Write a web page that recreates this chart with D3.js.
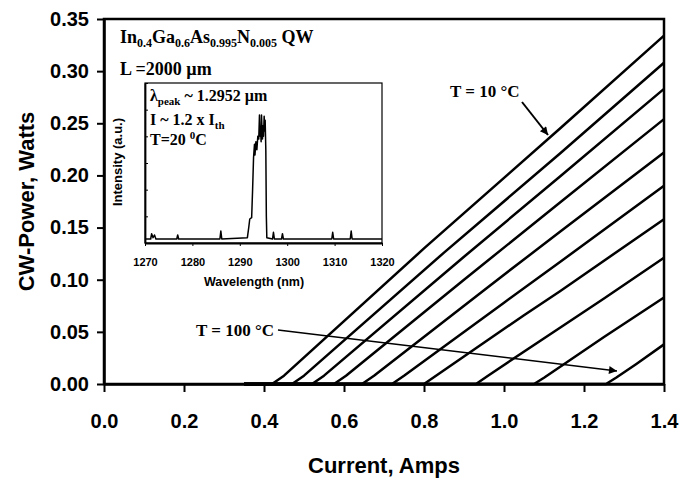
<!DOCTYPE html>
<html>
<head>
<meta charset="utf-8">
<script src="https://cdn.jsdelivr.net/npm/d3@7"></script>
<style>
  body { margin: 0; background: #fff; }
  .ax text, text.sans { font-family: "Liberation Sans", Arial, sans-serif; font-weight: bold; }
  .tl { font-family: "Liberation Serif", "Times New Roman", serif; font-weight: bold; }
</style>
</head>
<body>
<div id="chart"></div>
<script>
/* DATA */
// L-I curves, T = 10 .. 100 C, points are [current A, power W]
const temps = [10, 20, 30, 40, 50, 60, 70, 80, 90, 100];
const curve10  = [[0.35, 0], [0.42, 0], [0.45, 0.008], [0.80, 0.130], [1.14, 0.245], [1.40, 0.334]];
const curve20  = [[0.35, 0], [0.47, 0], [0.50, 0.008], [0.85, 0.126], [1.14, 0.221], [1.40, 0.308]];
const curve30  = [[0.35, 0], [0.52, 0], [0.55, 0.008], [0.90, 0.122], [1.14, 0.199], [1.40, 0.283]];
const curve40  = [[0.35, 0], [0.575, 0], [0.605, 0.008], [0.90, 0.100], [1.14, 0.174], [1.40, 0.254]];
const curve50  = [[0.35, 0], [0.645, 0], [0.675, 0.008], [0.95, 0.090], [1.14, 0.146], [1.40, 0.222]];
const curve60  = [[0.35, 0], [0.72, 0], [0.75, 0.008], [1.00, 0.078], [1.14, 0.117], [1.40, 0.190]];
const curve70  = [[0.35, 0], [0.80, 0], [0.83, 0.008], [1.05, 0.066], [1.14, 0.089], [1.40, 0.158]];
const curve80  = [[0.35, 0], [0.93, 0], [0.96, 0.008], [1.14, 0.054], [1.25, 0.082], [1.40, 0.121]];
const curve90  = [[0.35, 0], [1.075, 0], [1.10, 0.006], [1.25, 0.045], [1.40, 0.083]];
const curve100 = [[0.35, 0], [1.255, 0], [1.28, 0.006], [1.33, 0.019], [1.40, 0.038]];
const curves = [curve10, curve20, curve30, curve40, curve50, curve60, curve70, curve80, curve90, curve100];

const xTicks = [0.0, 0.2, 0.4, 0.6, 0.8, 1.0, 1.2, 1.4];
const yTicks = [0.00, 0.05, 0.10, 0.15, 0.20, 0.25, 0.30, 0.35];

// inset spectrum: [wavelength nm, intensity a.u.]
const spectrum = [
  [1270, 0.15], [1271.2, 0.15], [1271.4, 0.35], [1271.7, 0.2], [1272, 0.3], [1272.3, 0.15],
  [1276.7, 0.15], [1276.9, 0.3], [1277.1, 0.15],
  [1285.8, 0.15], [1286.0, 0.45], [1286.2, 0.15],
  [1291.6, 0.2], [1291.9, 0.6], [1292.1, 0.9], [1292.5, 0.95], [1292.7, 2.0], [1292.9, 3.2],
  [1293.1, 3.7], [1293.2, 3.3], [1293.4, 3.8], [1293.6, 3.5], [1293.8, 4.0], [1294.0, 3.9],
  [1294.15, 4.8], [1294.3, 4.0], [1294.37, 4.3], [1294.5, 3.8], [1294.58, 4.8], [1294.7, 4.2],
  [1294.79, 3.9], [1294.9, 4.4], [1295.0, 4.0], [1295.14, 4.75], [1295.25, 4.2], [1295.35, 4.6],
  [1295.49, 3.5], [1295.6, 1.0], [1295.7, 0.2],
  [1296.9, 0.15], [1297.1, 0.4], [1297.3, 0.15],
  [1298.8, 0.15], [1299.0, 0.35], [1299.2, 0.15],
  [1309.4, 0.15], [1309.6, 0.4], [1309.8, 0.15],
  [1313.3, 0.15], [1313.5, 0.45], [1313.7, 0.15], [1320, 0.15]
];
const insetXTicks = [1270, 1280, 1290, 1300, 1310, 1320];
const insetYTicks = [0, 1, 2, 3, 4, 5, 6];

/* LAYOUT */
const width = 691, height = 480;
const margin = {top: 19, right: 27, bottom: 96, left: 104};

const svg = d3.select("#chart").append("svg")
  .attr("width", width).attr("height", height);

const xScale = d3.scaleLinear().domain([0, 1.4]).range([margin.left, width - margin.right]);
const yScale = d3.scaleLinear().domain([0, 0.35]).range([height - margin.bottom, margin.top]);

// frame
svg.append("rect")
  .attr("x", xScale(0)).attr("y", yScale(0.35))
  .attr("width", xScale(1.4) - xScale(0)).attr("height", yScale(0) - yScale(0.35))
  .attr("fill", "none").attr("stroke", "#000").attr("stroke-width", 2.5);

const xAxis = d3.axisBottom(xScale).tickValues(xTicks).tickFormat(d3.format(".1f"))
  .tickSize(8).tickSizeOuter(0).tickPadding(22);
const yAxis = d3.axisLeft(yScale).tickValues(yTicks).tickFormat(d3.format(".2f"))
  .tickSize(7).tickSizeOuter(0).tickPadding(8);

const xg = svg.append("g").attr("class", "ax")
  .attr("transform", `translate(0, ${yScale(0)})`).call(xAxis);
const yg = svg.append("g").attr("class", "ax")
  .attr("transform", `translate(${xScale(0)}, 0)`).call(yAxis);
[xg, yg].forEach(g => {
  g.select(".domain").attr("stroke-width", 2.5);
  g.selectAll(".tick line").attr("stroke-width", 2);
  g.selectAll("text").attr("font-size", 20).attr("fill", "#000");
});

svg.append("text").attr("class", "sans")
  .attr("transform", `translate(34, ${(yScale(0) + yScale(0.35)) / 2}) rotate(-90)`)
  .attr("text-anchor", "middle").attr("font-size", 22).text("CW-Power, Watts");
svg.append("text").attr("class", "sans")
  .attr("x", (xScale(0) + xScale(1.4)) / 2).attr("y", 473)
  .attr("text-anchor", "middle").attr("font-size", 22).text("Current, Amps");

// L-I curves
const lineGen = d3.line().x(d => xScale(d[0])).y(d => yScale(d[1]));
svg.selectAll(".li")
  .data(curves)
  .join("path")
  .attr("class", "li")
  .attr("d", lineGen)
  .attr("fill", "none").attr("stroke", "#000").attr("stroke-width", 2.5)
  .attr("stroke-linejoin", "round");

// annotations
svg.append("defs").append("marker")
  .attr("id", "ah").attr("viewBox", "0 0 10 10").attr("refX", 10).attr("refY", 5)
  .attr("markerWidth", 10).attr("markerHeight", 8).attr("markerUnits", "userSpaceOnUse")
  .attr("orient", "auto")
  .append("path").attr("d", "M0,0 L10,5 L0,10 z").attr("fill", "#000");

svg.append("text").attr("class", "tl").attr("x", 450).attr("y", 97)
  .attr("font-size", 17).text("T = 10 \u00B0C");
svg.append("line").attr("x1", 522).attr("y1", 102).attr("x2", 548).attr("y2", 135)
  .attr("stroke", "#000").attr("stroke-width", 2).attr("marker-end", "url(#ah)");

svg.append("text").attr("class", "tl").attr("x", 274).attr("y", 336)
  .attr("text-anchor", "end").attr("font-size", 17).text("T = 100 \u00B0C");
svg.append("line").attr("x1", 278).attr("y1", 330).attr("x2", 617).attr("y2", 371)
  .attr("stroke", "#000").attr("stroke-width", 1.5).attr("marker-end", "url(#ah)");

// top label
const t1 = svg.append("text").attr("class", "tl").attr("x", 120).attr("y", 43).attr("font-size", 18);
[["In", ""], ["0.4", "s"], ["Ga", ""], ["0.6", "s"], ["As", ""], ["0.995", "s"], ["N", ""], ["0.005", "s"], [" QW", ""]]
  .forEach(([s, k], i) => {
    const ts = t1.append("tspan").text(s);
    if (k === "s") ts.attr("font-size", 12).attr("dy", 4);
    else if (i > 0) ts.attr("dy", -4);
  });
svg.append("text").attr("class", "tl").attr("x", 120).attr("y", 75)
  .attr("font-size", 18).text("L =2000 \u00B5m");

/* INSET */
const ix = d3.scaleLinear().domain([1270, 1320]).range([145, 382]);
const iy = d3.scaleLinear().domain([0, 6]).range([243, 83]);

svg.append("rect").attr("x", 145).attr("y", 83).attr("width", 237).attr("height", 160)
  .attr("fill", "#fff").attr("stroke", "#000").attr("stroke-width", 1.2);

const ixg = svg.append("g").attr("class", "ax").attr("transform", "translate(0,243)")
  .call(d3.axisBottom(ix).tickValues(insetXTicks).tickFormat(d3.format("d"))
    .tickSize(3).tickSizeOuter(0).tickPadding(12));
const iyg = svg.append("g").attr("class", "ax").attr("transform", "translate(145,0)")
  .call(d3.axisLeft(iy).tickValues(insetYTicks).tickSize(-3).tickSizeOuter(0).tickFormat(""));
[ixg, iyg].forEach(g => {
  g.select(".domain").attr("stroke-width", 1.8);
  g.selectAll(".tick line").attr("stroke-width", 1);
  g.selectAll("text").attr("font-size", 11).attr("fill", "#000");
});

svg.append("text").attr("class", "sans")
  .attr("transform", "translate(122, 162) rotate(-90)")
  .attr("text-anchor", "middle").attr("font-size", 13).text("Intensity (a.u.)");
svg.append("text").attr("class", "sans").attr("x", 254).attr("y", 286)
  .attr("text-anchor", "middle").attr("font-size", 12.5).text("Wavelength (nm)");

svg.append("path").datum(spectrum)
  .attr("d", d3.line().x(d => ix(d[0])).y(d => iy(d[1])))
  .attr("fill", "none").attr("stroke", "#000").attr("stroke-width", 1.5)
  .attr("stroke-linejoin", "round");

const l1 = svg.append("text").attr("class", "tl").attr("x", 150).attr("y", 101).attr("font-size", 16);
l1.append("tspan").text("\u03BB");
l1.append("tspan").attr("font-size", 11).attr("dy", 4).text("peak");
l1.append("tspan").attr("dy", -4).text(" ~ 1.2952 \u00B5m");
const l2 = svg.append("text").attr("class", "tl").attr("x", 150).attr("y", 125).attr("font-size", 16);
l2.append("tspan").text("I ~ 1.2 x I");
l2.append("tspan").attr("font-size", 11).attr("dy", 4).text("th");
const l3 = svg.append("text").attr("class", "tl").attr("x", 150).attr("y", 145).attr("font-size", 16);
l3.append("tspan").text("T=20 ");
l3.append("tspan").attr("font-size", 11).attr("dy", -6).text("0");
l3.append("tspan").attr("dy", 6).text("C");
</script>
</body>
</html>
